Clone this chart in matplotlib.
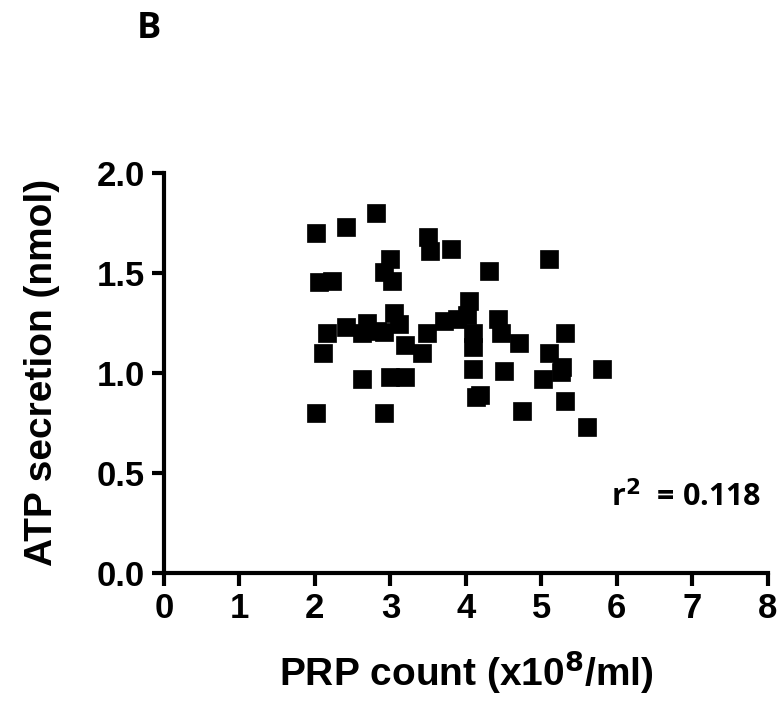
import matplotlib
matplotlib.use("Agg")
from matplotlib import pyplot as plt

# PRP count (x10^8/ml) vs ATP secretion (nmol)
prp = [2.01, 2.41, 2.81, 3.50, 3.53, 3.80, 3.00, 2.92, 3.02, 2.06,
       2.22, 2.16, 2.41, 2.69, 2.62, 2.82, 3.05, 3.11, 2.91, 3.20,
       3.42, 3.48, 3.71, 3.88, 4.04, 4.02, 4.10, 4.10, 2.11, 2.62,
       3.00, 3.20, 4.10, 4.13, 4.19, 2.01, 2.92, 4.31, 5.10, 4.42,
       4.46, 4.70, 5.31, 5.10, 5.28, 5.26, 5.02, 5.81, 4.51, 5.31,
       4.75, 5.61]
atp = [1.70, 1.73, 1.80, 1.68, 1.61, 1.62, 1.57, 1.505, 1.46, 1.455,
       1.46, 1.20, 1.23, 1.25, 1.196, 1.21, 1.30, 1.245, 1.205, 1.14,
       1.10, 1.20, 1.26, 1.27, 1.36, 1.29, 1.196, 1.13, 1.10, 0.97,
       0.976, 0.976, 1.02, 0.88, 0.887, 0.80, 0.80, 1.51, 1.57, 1.27,
       1.196, 1.15, 1.20, 1.10, 1.03, 1.004, 0.97, 1.02, 1.01, 0.86,
       0.81, 0.73]
r2_text = "0.118"

plt.rcParams["font.family"] = ["Liberation Sans", "DejaVu Sans"]
plt.rcParams["font.weight"] = "bold"

fig = plt.figure(figsize=(7.84, 7.01), dpi=100)
ax = fig.add_axes([0.2092, 0.1833, 0.770, 0.5706])

ax.plot(prp, atp, 's', color='black', markersize=12.5, markeredgewidth=0.5,
        clip_on=False)

ax.set_xlim(0, 8)
ax.set_ylim(0, 2.0)
ax.set_xticks(range(0, 9))
ax.set_yticks([0.0, 0.5, 1.0, 1.5, 2.0])
ax.set_yticklabels(["0.0", "0.5", "1.0", "1.5", "2.0"])

for s in ["top", "right"]:
    ax.spines[s].set_visible(False)
for s in ["left", "bottom"]:
    ax.spines[s].set_linewidth(3)
ax.tick_params(width=3, length=9, labelsize=25, pad=5)
for lab in ax.get_xticklabels() + ax.get_yticklabels():
    lab.set_fontweight("bold")

ax.set_xlabel("PRP count (x10$^{\\mathbf{8}}$/ml)", fontsize=28, fontweight="bold",
              labelpad=17)
ax.set_ylabel("ATP secretion (nmol)", fontsize=28, fontweight="bold", labelpad=26)

ax.text(7.92, 0.378, "r$^{\\mathbf{2}}$  = " + r2_text, fontsize=22, fontweight="bold",
        family="Open Sans", ha="right", va="center")
fig.text(0.190, 0.9586, "B", fontsize=26, fontweight="bold", family="Open Sans",
         ha="center", va="center")

fig.savefig("out.png", dpi=100, facecolor="white")
